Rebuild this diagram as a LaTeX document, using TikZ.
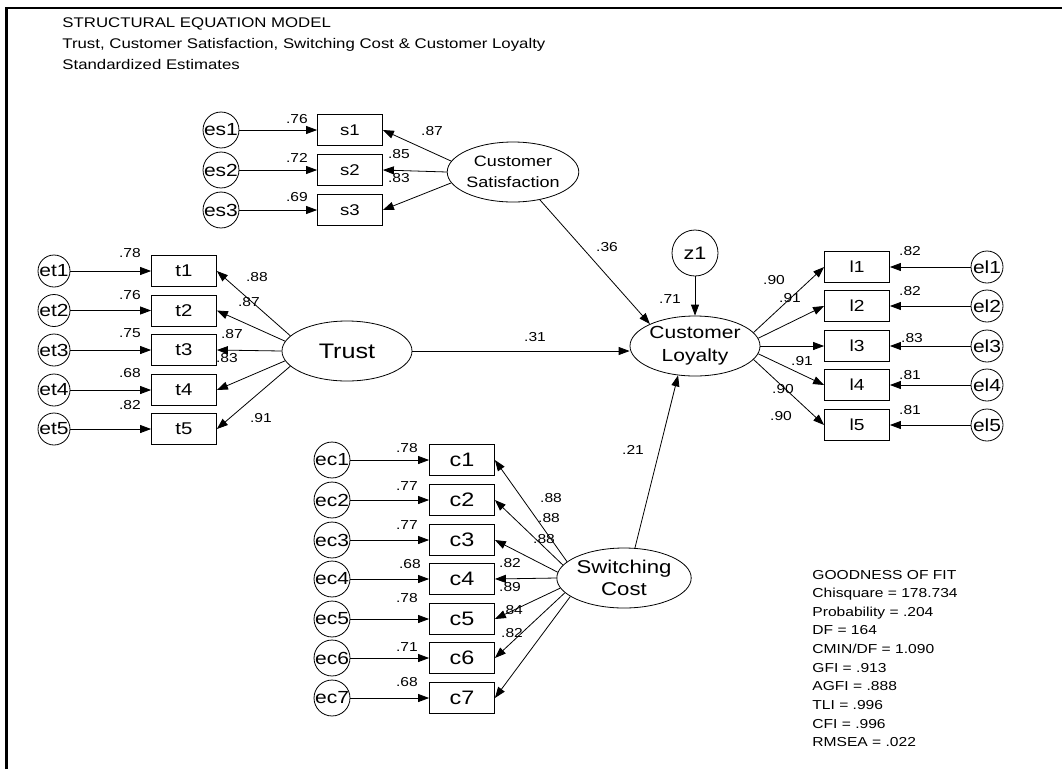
\documentclass[tikz,border=0pt]{standalone}
\usepackage{fontspec}
\setmainfont[FakeStretch=1.2]{Liberation Sans}
\usetikzlibrary{shapes.geometric,arrows.meta}
\newcommand{\fsz}[1]{\fontsize{#1}{#1}\selectfont}

\begin{document}
\begin{tikzpicture}[x=1pt,y=-1pt,line width=0.8pt,
    every node/.style={inner sep=0pt},
    obs/.style={draw,rectangle,minimum width=65pt,minimum height=31pt},
    err/.style={draw,circle,minimum size=32pt,font=\fsz{17.5}},
    lat/.style={draw,ellipse,minimum width=130pt,minimum height=60pt,align=center},
    est/.style={font=\fsz{13}},
    reg/.style={-{Triangle[length=11pt,width=8pt]}}]
    \useasboundingbox (0,0) rectangle (1062,769);
    \draw[line width=2.5pt] (6.5,769) -- (6.5,8) -- (1062,8);
    % heading
    \node[anchor=base west,font=\fsz{14}] (title1) at (62,27) {STRUCTURAL EQUATION MODEL};
    \node[anchor=base west,font=\fsz{14}] (title2) at (62,48) {Trust, Customer Satisfaction, Switching Cost \& Customer Loyalty};
    \node[anchor=base west,font=\fsz{14}] (title3) at (62,69) {Standardized Estimates};
    % latent variables
    \node[lat,font=\fontsize{15}{21}\selectfont] (CS) at (513,172) {Customer\\Satisfaction};
    \node[lat,font=\fsz{21}] (Tr) at (347,351) {Trust};
    \node[lat,font=\fontsize{17.5}{23}\selectfont] (CL) at (695,346) {Customer\\Loyalty};
    \node[lat,font=\fontsize{18.5}{22}\selectfont] (SC) at (624,578) {Switching\\Cost};
    \node[draw,circle,minimum size=46pt,font=\fsz{18}] (z1) at (695,253) {z1};
    % satisfaction items
    \node[obs,font=\fsz{15.5}] (s1) at (350,130) {s1};
    \node[obs,font=\fsz{15.5}] (s2) at (350,170) {s2};
    \node[obs,font=\fsz{15.5}] (s3) at (350,210) {s3};
    \node[err] (es1) at (221,130) {es1};
    \node[err] (es2) at (221,170) {es2};
    \node[err] (es3) at (221,210) {es3};
    \draw[reg] (es1) -- (s1);
    \draw[reg] (es2) -- (s2);
    \draw[reg] (es3) -- (s3);
    \draw[reg] (CS.170) -- (s1.east);
    \draw[reg] (CS.180) -- (s2.east);
    \draw[reg] (CS.190) -- (s3.east);
    \node[est] (ves1) at (297,119.5) {.76};
    \node[est] (ves2) at (297,158) {.72};
    \node[est] (ves3) at (297,197.5) {.69};
    \node[est] (vs1) at (432,131.5) {.87};
    \node[est] (vs2) at (399,154) {.85};
    \node[est] (vs3) at (399,178) {.83};
    % trust items
    \node[obs,font=\fsz{17}] (t1) at (184,271) {t1};
    \node[obs,font=\fsz{17}] (t2) at (184,310.5) {t2};
    \node[obs,font=\fsz{17}] (t3) at (184,350) {t3};
    \node[obs,font=\fsz{17}] (t4) at (184,390) {t4};
    \node[obs,font=\fsz{17}] (t5) at (184,429) {t5};
    \node[err] (et1) at (54,271) {et1};
    \node[err] (et2) at (54,310.5) {et2};
    \node[err] (et3) at (54,350) {et3};
    \node[err] (et4) at (54,390) {et4};
    \node[err] (et5) at (54,429) {et5};
    \draw[reg] (et1) -- (t1);
    \draw[reg] (et2) -- (t2);
    \draw[reg] (et3) -- (t3);
    \draw[reg] (et4) -- (t4);
    \draw[reg] (et5) -- (t5);
    \draw[reg] (Tr.165) -- (t1.east);
    \draw[reg] (Tr.171) -- (t2.east);
    \draw[reg] (Tr.180) -- (t3.east);
    \draw[reg] (Tr.189) -- (t4.east);
    \draw[reg] (Tr.195) -- (t5.east);
    \node[est] (vet1) at (130,253) {.78};
    \node[est] (vet2) at (130,295) {.76};
    \node[est] (vet3) at (130,333) {.75};
    \node[est] (vet4) at (130,373) {.68};
    \node[est] (vet5) at (130,405) {.82};
    \node[est] (vt1) at (257,277) {.88};
    \node[est] (vt2) at (249,302) {.87};
    \node[est] (vt3) at (232,334) {.87};
    \node[est] (vt4) at (227,358) {.83};
    \node[est] (vt5) at (261,418) {.91};
    % loyalty items
    \node[obs,font=\fsz{16}] (l1) at (857,267) {l1};
    \node[obs,font=\fsz{16}] (l2) at (857,306) {l2};
    \node[obs,font=\fsz{16}] (l3) at (857,346) {l3};
    \node[obs,font=\fsz{16}] (l4) at (857,385) {l4};
    \node[obs,font=\fsz{16}] (l5) at (857,425) {l5};
    \node[err] (el1) at (987,267) {el1};
    \node[err] (el2) at (987,306) {el2};
    \node[err] (el3) at (987,346) {el3};
    \node[err] (el4) at (987,385) {el4};
    \node[err] (el5) at (987,425) {el5};
    \draw[reg] (el1) -- (l1);
    \draw[reg] (el2) -- (l2);
    \draw[reg] (el3) -- (l3);
    \draw[reg] (el4) -- (l4);
    \draw[reg] (el5) -- (l5);
    \draw[reg] (CL.13) -- (l1.west);
    \draw[reg] (CL.7) -- (l2.west);
    \draw[reg] (CL.0) -- (l3.west);
    \draw[reg] (CL.353) -- (l4.west);
    \draw[reg] (CL.347) -- (l5.west);
    \node[est] (vel1) at (910,251) {.82};
    \node[est] (vel2) at (910,291) {.82};
    \node[est] (vel3) at (912,338) {.83};
    \node[est] (vel4) at (910,375) {.81};
    \node[est] (vel5) at (910,410) {.81};
    \node[est] (vl1) at (774,280) {.90};
    \node[est] (vl2) at (790,298) {.91};
    \node[est] (vl3) at (802,361) {.91};
    \node[est] (vl4) at (783,389) {.90};
    \node[est] (vl5) at (781,416) {.90};
    % switching cost items
    \node[obs,font=\fsz{19.5}] (c1) at (462,460) {c1};
    \node[obs,font=\fsz{19.5}] (c2) at (462,500) {c2};
    \node[obs,font=\fsz{19.5}] (c3) at (462,540) {c3};
    \node[obs,font=\fsz{19.5}] (c4) at (462,579) {c4};
    \node[obs,font=\fsz{19.5}] (c5) at (462,619) {c5};
    \node[obs,font=\fsz{19.5}] (c6) at (462,658) {c6};
    \node[obs,font=\fsz{19.5}] (c7) at (462,698) {c7};
    \node[err] (ec1) at (332,460) {ec1};
    \node[err] (ec2) at (332,500) {ec2};
    \node[err] (ec3) at (332,540) {ec3};
    \node[err] (ec4) at (332,579) {ec4};
    \node[err] (ec5) at (332,619) {ec5};
    \node[err] (ec6) at (332,658) {ec6};
    \node[err] (ec7) at (332,698) {ec7};
    \draw[reg] (ec1) -- (c1);
    \draw[reg] (ec2) -- (c2);
    \draw[reg] (ec3) -- (c3);
    \draw[reg] (ec4) -- (c4);
    \draw[reg] (ec5) -- (c5);
    \draw[reg] (ec6) -- (c6);
    \draw[reg] (ec7) -- (c7);
    \draw[reg] (SC.164) -- (c1.east);
    \draw[reg] (SC.168) -- (c2.east);
    \draw[reg] (SC.175) -- (c3.east);
    \draw[reg] (SC.180) -- (c4.east);
    \draw[reg] (SC.189) -- (c5.east);
    \draw[reg] (SC.194) -- (c6.east);
    \draw[reg] (SC.199) -- (c7.east);
    \node[est] (vec1) at (407,448) {.78};
    \node[est] (vec2) at (407,486) {.77};
    \node[est] (vec3) at (407,525) {.77};
    \node[est] (vec4) at (410,564) {.68};
    \node[est] (vec5) at (407,598) {.78};
    \node[est] (vec6) at (407,647) {.71};
    \node[est] (vec7) at (407,682) {.68};
    \node[est] (vc1) at (551,498) {.88};
    \node[est] (vc2) at (549,518) {.88};
    \node[est] (vc3) at (544,539) {.88};
    \node[est] (vc4) at (510,563) {.82};
    \node[est] (vc5) at (510,587) {.89};
    \node[est] (vc6) at (512,610) {.84};
    \node[est] (vc7) at (512,633) {.82};
    % structural paths
    \draw[reg] (CS.314) -- (CL.154);
    \draw[reg] (Tr.east) -- (Tr.east -| CL.west);
    \draw[reg] (SC.70) -- (CL.240);
    \draw[reg] (z1) -- (CL);
    \node[est] (vcs) at (607,247) {.36};
    \node[est] (vtr) at (535,337) {.31};
    \node[est] (vsc) at (633,450) {.21};
    \node[est] (vz1) at (670,299) {.71};
    % fit indices
    \foreach \txt [count=\i from 0] in {GOODNESS OF FIT, Chisquare = 178.734, Probability = .204,
        DF = 164, CMIN/DF = 1.090, GFI = .913, AGFI = .888, TLI = .996, CFI = .996, RMSEA = .022}
        \node[anchor=base west,font=\fsz{13}] (gof\i) at (812,579+18.65*\i) {\txt};
\end{tikzpicture}
\end{document}
